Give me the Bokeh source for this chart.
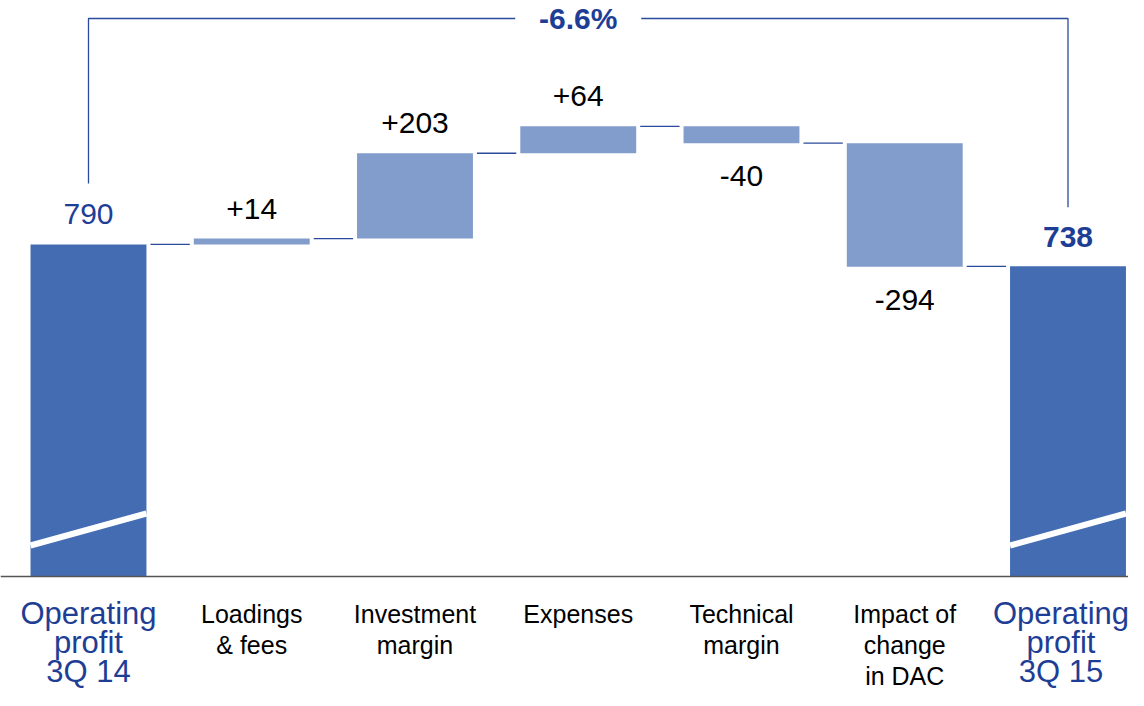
from bokeh.plotting import figure
from bokeh.models import Span
from bokeh.core.properties import value
from bokeh.embed import file_html
from bokeh.resources import INLINE

# ---- data ----
categories = ["Operating\nprofit\n3Q 14", "Loadings\n& fees", "Investment\nmargin",
              "Expenses", "Technical\nmargin", "Impact of\nchange\nin DAC",
              "Operating\nprofit\n3Q 15"]
start_value = 790
deltas = [14, 203, 64, -40, -294]
end_value = 738
start_label = "790"
end_label = "738"
delta_labels = ["+14", "+203", "+64", "-40", "-294"]
change_label = "-6.6%"

# ---- styles ----
DARK = "#446CB3"
LIGHT = "#829DCC"
TXT_BLUE = "#1E3E96"
LINE_BLUE = "#2A4A9C"
FONT = value("Liberation Sans")

W, H = 1128, 690
X0, X1 = -0.539, 6.3706
Y0, Y1 = -271.2, 1370.4
ux = (X1 - X0) / W   # data units per px
uy = (Y1 - Y0) / H
BW = 0.71

p = figure(width=W, height=H, x_range=(X0, X1), y_range=(Y0, Y1),
           output_backend="svg", toolbar_location=None,
           x_axis_location=None, y_axis_location=None,
           min_border=0, outline_line_color=None)
p.grid.visible = False
p.background_fill_color = "white"

n = len(categories)
xs = list(range(n))

# cumulative levels
levels = [start_value]
for d in deltas:
    levels.append(levels[-1] + d)

bottoms = [0]
tops = [start_value]
for i, d in enumerate(deltas):
    a, b = levels[i], levels[i + 1]
    bottoms.append(min(a, b))
    tops.append(max(a, b))
bottoms.append(0)
tops.append(end_value)
colors = [DARK] + [LIGHT] * len(deltas) + [DARK]

p.quad(left=[x - BW / 2 for x in xs], right=[x + BW / 2 for x in xs],
       bottom=bottoms, top=tops, fill_color=colors, line_color=None)

# broken-axis white stripes on total bars
for i in (0, n - 1):
    p.segment(x0=[i - BW / 2], y0=[31 * uy], x1=[i + BW / 2], y1=[63 * uy],
              line_color="white", line_width=6)

# connectors
conn_levels = levels[:]
conn_levels[-1] = end_value
for i in range(n - 1):
    lv = conn_levels[i]
    p.segment(x0=[i + BW / 2 + 4 * ux], y0=[lv], x1=[i + 1 - BW / 2 - 4 * ux], y1=[lv],
              line_color=LINE_BLUE, line_width=1.3)

# baseline axis
p.add_layout(Span(location=0, dimension="width", line_color="#555555", line_width=1.5))

# value labels
p.text(x=[0], y=[start_value], text=[start_label], text_font=FONT, text_font_size="30px",
       text_align="center", text_baseline="alphabetic", text_color=TXT_BLUE, y_offset=-30)
p.text(x=[n - 1], y=[end_value], text=[end_label], text_font=FONT, text_font_size="30px",
       text_align="center", text_baseline="alphabetic", text_color=TXT_BLUE,
       text_font_style="bold", y_offset=-29)
for i, (d, lab) in enumerate(zip(deltas, delta_labels)):
    x = i + 1
    if d >= 0:
        p.text(x=[x], y=[tops[x]], text=[lab], text_font=FONT, text_font_size="30px",
               text_align="center", text_baseline="alphabetic", text_color="black", y_offset=-30)
    else:
        p.text(x=[x], y=[bottoms[x]], text=[lab], text_font=FONT, text_font_size="30px",
               text_align="center", text_baseline="alphabetic", text_color="black", y_offset=33)

# category labels
for i, cat in enumerate(categories):
    lines = cat.split("\n")
    total = i in (0, n - 1)
    for j, ln in enumerate(lines):
        if total:
            p.text(x=[i], y=[0], text=[ln], text_font=FONT, text_font_size="31px",
                   text_align="center", text_baseline="alphabetic", text_color=TXT_BLUE,
                   y_offset=37 + 29 * j, x_offset=(-7 if i == n - 1 else 0))
        else:
            p.text(x=[i], y=[0], text=[ln], text_font=FONT, text_font_size="25px",
                   text_align="center", text_baseline="alphabetic", text_color="black",
                   y_offset=37 + 31 * j)

# bracket with change label
ytop = Y1 - 18 * uy
mid = (0 + (n - 1)) / 2
gap = 63 * ux
p.line(x=[0, 0, mid - gap], y=[start_value + 61 * uy, ytop, ytop],
       line_color=LINE_BLUE, line_width=1.3)
p.line(x=[mid + gap, n - 1, n - 1], y=[ytop, ytop, end_value + 59 * uy],
       line_color=LINE_BLUE, line_width=1.3)
p.text(x=[mid], y=[ytop], text=[change_label], text_font=FONT, text_font_size="30px",
       text_align="center", text_baseline="alphabetic", text_color=TXT_BLUE,
       text_font_style="bold", y_offset=0)

open("out.html", "w").write(file_html(p, INLINE))
